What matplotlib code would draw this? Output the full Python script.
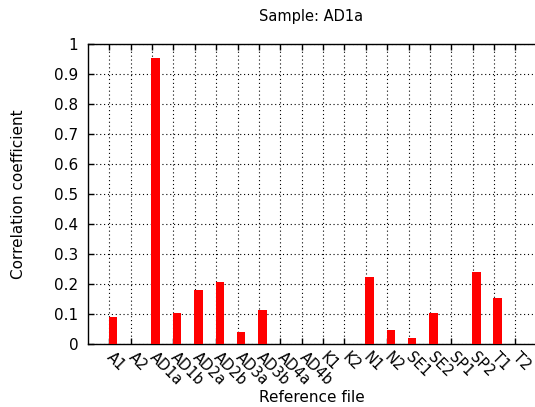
import matplotlib
matplotlib.use("Agg")
import matplotlib.pyplot as plt
import numpy as np

categories = ["A1", "A2", "AD1a", "AD1b", "AD2a", "AD2b", "AD3a", "AD3b", "AD4a", "AD4b",
              "K1", "K2", "N1", "N2", "SE1", "SE2", "SP1", "SP2", "T1", "T2"]
values = [0.089, 0.0, 0.952, 0.103, 0.181, 0.207, 0.041, 0.113, 0.0, 0.0,
          0.0, 0.0, 0.225, 0.048, 0.020, 0.104, 0.0, 0.241, 0.154, 0.0]
yticks = [0, 0.1, 0.2, 0.3, 0.4, 0.5, 0.6, 0.7, 0.8, 0.9, 1]
ytick_labels = ["0", "0.1", "0.2", "0.3", "0.4", "0.5", "0.6", "0.7", "0.8", "0.9", "1"]

W, H = 535, 407
FS = 11
fig = plt.figure(figsize=(W / 100, H / 100), dpi=100)
left, right, top, bottom = 88, 536, 44, 344
ax = fig.add_axes([left / W, 1 - bottom / H, (right - left) / W, (bottom - top) / H])

x = np.arange(len(categories))
ax.bar(x - 0.03, values, width=0.40, align="edge", color="#ff0000", linewidth=0, zorder=3)

ax.set_xlim(-1, (right - left) / 21.37 - 1)
ax.set_ylim(0, 1)
ax.set_yticks(yticks)
ax.set_yticklabels(ytick_labels, fontsize=FS)
ax.set_xticks(x)
ax.set_xticklabels(categories, fontsize=10.5, rotation=-45, ha="left", va="center",
                   rotation_mode="anchor")

ax.tick_params(axis="both", direction="in", length=4, width=1, top=True, right=False, colors="black")
ax.tick_params(axis="y", pad=7)
ax.tick_params(axis="x", pad=8)
ax.grid(True, linestyle=(0, (1, 2.5)), color="black", linewidth=0.8, zorder=1)
for s in ["left", "top", "bottom"]:
    ax.spines[s].set_linewidth(1)
ax.spines["right"].set_visible(False)

ax.set_xlabel("Reference file", fontsize=FS, va="center")
ax.xaxis.set_label_coords((311.5 - left) / (right - left), (bottom - 398) / (bottom - top))
ax.set_ylabel("Correlation coefficient", fontsize=FS, va="center")
ax.yaxis.set_label_coords((19 - left) / (right - left), 0.5)
fig.text(311.5 / W, 1 - 16 / H, "Sample: AD1a", fontsize=FS - 0.5, ha="center", va="center")

fig.savefig("out.png", dpi=100)
